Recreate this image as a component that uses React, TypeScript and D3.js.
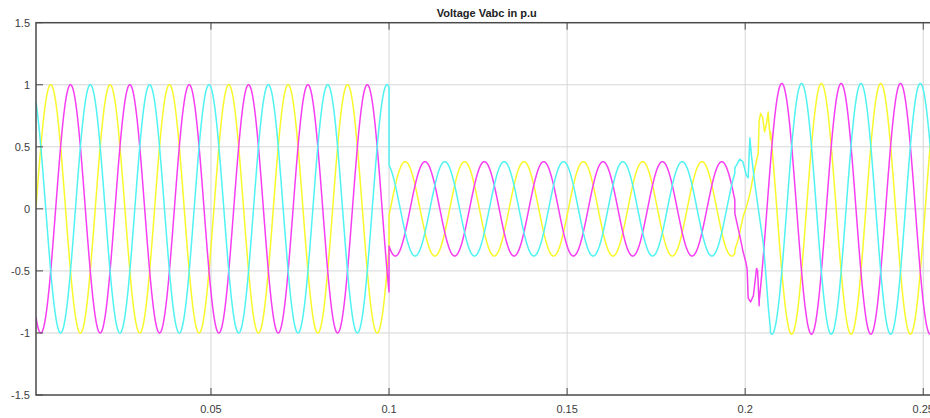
import React from "react";
import * as d3 from "d3";

// Three-phase voltage, per unit, with a sag between 0.1 s and 0.2 s
const phaseLabels = ["Va", "Vb", "Vc"];
const phaseColors = ["#f8f82c", "#f53ef2", "#50f2f2"];
const phaseAnglesDeg = [-18, -138, 102];
const frequencyHz = 60;

// Steady-state segments: start time (s), peak amplitude (p.u.), phase drift (deg)
const segmentStart = [0, 0.1, 0.2];
const segmentAmplitude = [1.0, 0.38, 1.01];
const segmentPhaseShiftDeg = [0, 10, 6];

// Recovery transient around 0.2 s, sampled per phase
const transientTimes = [
  [0.19711, 0.19803, 0.19944, 0.2002, 0.20132, 0.20224, 0.20320, 0.20365, 0.20393, 0.20432, 0.20489, 0.20545, 0.20601, 0.20646, 0.20674, 0.20713],
  [0.19711, 0.19851, 0.19944, 0.2002, 0.20056, 0.20084, 0.20152, 0.2023, 0.2032, 0.20348, 0.20393],
  [0.19711, 0.19851, 0.19935, 0.20034, 0.20084, 0.20132, 0.2018, 0.20272, 0.20413, 0.20505, 0.20573, 0.20651, 0.20707],
];
const transientValues = [
  [-0.33, -0.25, -0.06, 0.0, 0.12, 0.26, 0.39, 0.45, 0.71, 0.77, 0.74, 0.62, 0.69, 0.78, 0.66, 0.56],
  [-0.04, -0.22, -0.35, -0.43, -0.49, -0.72, -0.75, -0.7, -0.48, -0.5, -0.78],
  [0.33, 0.4, 0.38, 0.27, 0.25, 0.57, 0.42, 0.2, -0.09, -0.27, -0.5, -0.8, -0.96],
];

const xTicks = [0.05, 0.1, 0.15, 0.2, 0.25];
const xTickLabels = ["0.05", "0.1", "0.15", "0.2", "0.25"];
const yTicks = [1.5, 1, 0.5, 0, -0.5, -1, -1.5];
const yTickLabels = ["1.5", "1", "0.5", "0", "-0.5", "-1", "-1.5"];
const xDomain = [0.00087, 0.254];
const yDomain = [-1.5, 1.5];
const title = "Voltage Vabc in p.u";

const W = 930;
const H = 418;
const plot = { left: 36, right: 937.5, top: 22.7, bottom: 395 };
const FONT = "'Liberation Sans', Arial, Helvetica, sans-serif";

const dt = 0.00002;

function steadyValue(p: number, t: number): number {
  let s = 0;
  segmentStart.forEach((b, i) => {
    if (t >= b) s = i;
  });
  const phase = ((phaseAnglesDeg[p] + segmentPhaseShiftDeg[s]) * Math.PI) / 180;
  return segmentAmplitude[s] * Math.sin(2 * Math.PI * frequencyHz * t + phase);
}

function steadySamples(p: number, from: number, to: number): [number, number][] {
  const ts = d3.range(from, to, dt);
  segmentStart.slice(1).forEach((b) => {
    if (b > from && b < to) ts.push(b - 1e-7, b);
  });
  ts.sort((a, b) => a - b);
  return ts.map((t) => [t, steadyValue(p, t)] as [number, number]);
}

function buildSeries(p: number): [number, number][] {
  const tt = transientTimes[p];
  const tv = transientValues[p];
  const tA = tt[0];
  const tB = tt[tt.length - 1];
  const transient = tt.map((t, i) => [t, tv[i]] as [number, number]);
  return [
    ...steadySamples(p, xDomain[0], tA),
    ...transient,
    ...steadySamples(p, tB + dt, xDomain[1] + dt),
  ];
}

export default function App() {
  const x = d3.scaleLinear().domain(xDomain).range([plot.left, plot.right]);
  const y = d3.scaleLinear().domain(yDomain).range([plot.bottom, plot.top]);
  const line = d3
    .line<[number, number]>()
    .x((d) => x(d[0]))
    .y((d) => y(d[1]));

  const series = phaseLabels.map((_, p) => buildSeries(p));
  const tickLen = 7;
  const axisColor = "#4a4a4a";
  const gridColor = "#d6d6d6";
  const textColor = "#3c3c3c";

  return (
    <svg
      width={W}
      height={H}
      style={{ position: "absolute", left: 0, top: 0, background: "#ffffff" }}
    >
      <defs>
        <clipPath id="plot-area">
          <rect
            x={plot.left}
            y={plot.top}
            width={plot.right - plot.left}
            height={plot.bottom - plot.top}
          />
        </clipPath>
      </defs>
      <rect x={0} y={0} width={W} height={H} fill="#ffffff" />

      {/* grid */}
      {yTicks
        .filter((v) => v > yDomain[0] && v < yDomain[1])
        .map((v) => (
          <line
            key={"gy" + v}
            x1={plot.left}
            x2={plot.right}
            y1={y(v)}
            y2={y(v)}
            stroke={gridColor}
            strokeWidth={1}
          />
        ))}
      {xTicks.map((v) => (
        <line
          key={"gx" + v}
          x1={x(v)}
          x2={x(v)}
          y1={plot.top}
          y2={plot.bottom}
          stroke={gridColor}
          strokeWidth={1}
        />
      ))}

      {/* phase voltages */}
      <g clipPath="url(#plot-area)">
        {series.map((s, p) => (
          <path
            key={phaseLabels[p]}
            d={line(s) || ""}
            fill="none"
            stroke={phaseColors[p]}
            strokeWidth={1.5}
            strokeLinejoin="round"
          />
        ))}
      </g>

      {/* axes box and ticks */}
      <rect
        x={plot.left}
        y={plot.top}
        width={plot.right - plot.left}
        height={plot.bottom - plot.top}
        fill="none"
        stroke={axisColor}
        strokeWidth={1.5}
      />
      {xTicks.map((v) => (
        <g key={"tx" + v}>
          <line x1={x(v)} x2={x(v)} y1={plot.bottom} y2={plot.bottom - tickLen} stroke={axisColor} />
          <line x1={x(v)} x2={x(v)} y1={plot.top} y2={plot.top + tickLen} stroke={axisColor} />
        </g>
      ))}
      {yTicks.map((v) => (
        <line
          key={"ty" + v}
          x1={plot.left}
          x2={plot.left + tickLen}
          y1={y(v)}
          y2={y(v)}
          stroke={axisColor}
        />
      ))}

      {/* tick labels */}
      {xTicks.map((v, i) => (
        <text
          key={"lx" + v}
          x={x(v)}
          y={413}
          textAnchor="middle"
          fontFamily={FONT}
          fontSize={11}
          fill={textColor}
        >
          {xTickLabels[i]}
        </text>
      ))}
      {yTicks.map((v, i) => (
        <text
          key={"ly" + v}
          x={30}
          y={y(v)}
          dy="0.35em"
          textAnchor="end"
          fontFamily={FONT}
          fontSize={11}
          fill={textColor}
        >
          {yTickLabels[i]}
        </text>
      ))}

      <text
        x={(plot.left + plot.right) / 2}
        y={16.5}
        textAnchor="middle"
        fontFamily={FONT}
        fontSize={11}
        fontWeight="bold"
        fill="#222222"
      >
        {title}
      </text>
    </svg>
  );
}
